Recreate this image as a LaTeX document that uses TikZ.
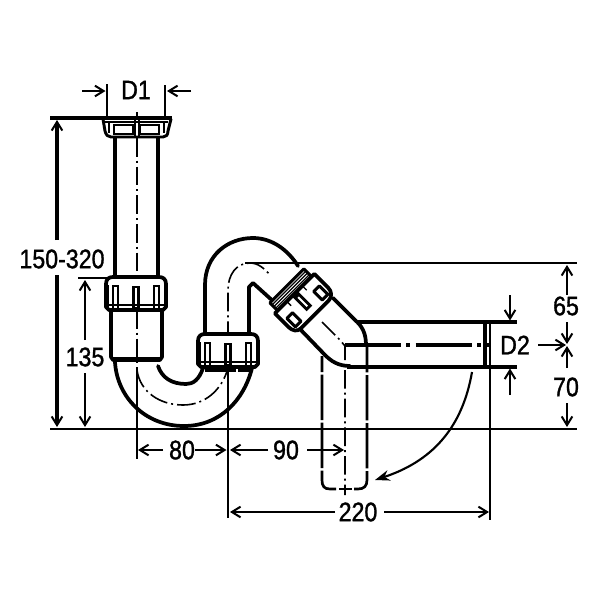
\documentclass[tikz,border=0pt]{standalone}
\usepackage{fontspec}
\setmainfont{Liberation Sans}[BoldFont={Liberation Sans},BoldFeatures={FakeBold=1.3}]
\usetikzlibrary{arrows.meta}
\tikzset{
  px/.style={x=0.75pt,y=-0.75pt},
  thick line/.style={line width=2.8pt,line cap=round,line join=round},
  mid line/.style={line width=2.2pt,line cap=round,line join=round},
  thin line/.style={line width=1.3pt},
  axis/.style={line width=1.2pt,dash pattern=on 14pt off 3pt on 1.5pt off 3pt},
  hidden/.style={line width=2pt,dash pattern=on 34pt off 2pt},
  dim/.style={line width=2pt,-{Straight Barb[length=6.5pt,width=8pt,line width=1.5pt]}},
  thindim/.style={line width=1.3pt,-{Straight Barb[length=6.5pt,width=8pt,line width=1.5pt]}},
  lab/.style={font=\bfseries\fontsize{20}{21}\selectfont,xscale=.87,inner sep=0pt},
  win/.style={line width=1.2pt},
  nut/.pic={
    \draw[thick line,fill=white] (-30,-10) .. controls (-30,-15) and (-27,-17) .. (-23,-17)
      -- (23,-17) .. controls (27,-17) and (30,-15) .. (30,-10) -- (30,13) -- (27,16) -- (-27,16) -- (-30,13) -- cycle;
    \draw[win] (-23,16) -- (-23,-8) -- (-18,-8) -- (-18,16);
    \draw[win] (18,16) -- (18,-8) -- (23,-8) -- (23,16);
    \fill (-4,-8) rectangle (4,14);
    \fill[white] (-1,-6) rectangle (1,13);
    \fill (-30,-9) rectangle (-27.5,13);
    \fill (27.5,-9) rectangle (30,13);
    \draw[line width=1.2pt] (-29,11) -- (29,11);
  }
}
\begin{document}
\begin{tikzpicture}[px]
\useasboundingbox (0,0) rectangle (600,600);
\fill[white] (0,0) rectangle (600,600);

% named reference points
\coordinate (topL) at (50,118); \coordinate (topR) at (172,118);
\coordinate (baseL) at (50,429); \coordinate (baseR) at (577,429);
\coordinate (hiL) at (245,263); \coordinate (hiR) at (577,263);

% witness lines
\draw[thin line] (baseL) -- (baseR);
\draw[thin line] (hiL) -- (hiR);
\draw[thin line] (78,278) -- (110,278);
\draw[thin line] (137,370) -- (137,459);
\draw[thin line] (228,368) -- (228,518);
\draw[line width=2pt] (490,322) -- (490,520);
\draw[thin line] (106.7,84) -- (106.7,118);
\draw[mid line,line cap=butt] (165,85) -- (165,118);
\draw[thick line,line cap=butt] (357,322) -- (517,322);
\draw[thick line,line cap=butt] (347,367) -- (517,367);

% top nut with pipe
\draw[thick line,line cap=butt] (topL) -- (topR);
\draw[thick line,line cap=butt] (115,136) -- (115,278);
\draw[thick line,line cap=butt] (158,136) -- (158,278);
\draw[mid line] (103,119) -- (105,131) .. controls (106,135) and (108,137) .. (111,137)
   -- (163,137) .. controls (166,137) and (168,135) .. (168,131) -- (171,119);
\draw[win] (105,122) -- (168,122);
\draw[win] (109,122) -- (109,133) (114,125) -- (114,134) -- (133,134) -- (133,125) -- cycle
   (140,125) -- (140,134) -- (159,134) -- (159,125) -- cycle (164,122) -- (164,133);
\draw[line width=.8pt] (135,119) -- (135,136) (139,119) -- (139,136);

% trap
\draw[thick line] (115,362) .. controls (117,397) and (145,426) .. (184,426)
    .. controls (220,426) and (244,400) .. (252,368);
\draw[thick line] (158,366) .. controls (162,378) and (172,384) .. (186,384)
    .. controls (193,384) and (199,380) .. (203,368);
\draw[thick line,line cap=butt] (111,310) -- (111,357) -- (113,360) -- (160,360) -- (162,357) -- (162,310);
\draw[line width=3.6pt,line cap=butt] (113,359) -- (160,359);

% rise and bend
\draw[thick line] (205,336) -- (205,285) .. controls (205,255) and (228,238) .. (253,238)
   .. controls (272,238) and (288,250) .. (298,266);
\draw[thick line] (249,336) -- (249,287) -- (253,283) -- (274,302);

% elbow (visible part)
\draw[thick line] (333,298) -- (355,320) .. controls (362,326) and (366,333) .. (366,345);
\draw[thick line] (299,328) -- (325,355) .. controls (331,361) and (338,366) .. (350,366);

% hidden leg
\draw[hidden,dash phase=22pt] (322,356) -- (322,480) .. controls (322,486) and (324,489) .. (330,489) -- (336,489);
\draw[hidden,dash phase=15pt] (367,347) -- (367,480) .. controls (367,486) and (364,489) .. (358,489) -- (354,489);
\draw[line width=2pt] (339,489) -- (352,489);

% horizontal pipe end
\draw[thick line,line cap=butt] (485,322) -- (485,367);

% centre lines
\draw[axis] (137,112) -- (137,116);
\draw[axis] (137,138) -- (137,370);
\draw[axis] (137,370) .. controls (140,392) and (160,405) .. (183,405)
   .. controls (205,405) and (222,390) .. (228,368);
\draw[axis] (228,340) -- (228,290) .. controls (228,275) and (236,263) .. (250,263)
   .. controls (258,263) and (264,268) .. (271,276);
\draw[axis] (322,322) -- (340,340) -- (345,346) -- (345,495);
\draw[line width=2.4pt,dash pattern=on 42pt off 4pt on 3pt off 4pt] (345,345) -- (490,345);

% nuts
\path (136,294) pic {nut};
\path (228,351) pic {nut};
\draw[line width=2.6pt,line cap=butt] (205,370) -- (236,370) (238,370) -- (251,370);
\begin{scope}[shift={(301,300)},rotate=45]
  \draw[mid line,fill=white] (-24,-20) -- (24,-20) -- (24,-9) -- (-24,-9) -- cycle;
  \draw[line width=.9pt] (-24,-17) -- (24,-17) (-24,-14.5) -- (24,-14.5) (-24,-12) -- (24,-12);
  \draw[thick line,fill=white] (-28,-9) -- (28,-9) -- (28,10) .. controls (28,16) and (24,20) .. (19,20)
     -- (-20,20) .. controls (-25,20) and (-28,16) .. (-28,10) -- cycle;
  \draw[mid line,fill=white] (-23,3) rectangle (-15,15);
  \draw[mid line,fill=white] (15,3) rectangle (23,15);
  \fill (-4,-8) rectangle (4,12);
  \fill[white] (-1,-4) rectangle (1,9);
  \foreach \k in {-11,11} {\draw[line width=1pt] (\k,-9) -- (\k,-3);}
\end{scope}

% dimension arrows
\coordinate (a1) at (57,120); \coordinate (a2) at (57,240);
\draw[dim,line width=2.4pt] (a2) -- (a1);
\draw[dim,line width=2.4pt] (57,275) -- (57,427);
\draw[thindim] (85,340) -- (85,280);
\draw[thindim] (85,373) -- (85,427);
\draw[dim] (82,91) -- (105.5,91);
\draw[dim] (191,91) -- (167,91);
\draw[dim] (163,450) -- (138,450);
\draw[dim] (195,450) -- (226.5,450);
\draw[dim] (268,450) -- (230,450);
\draw[dim] (307,450) -- (344,450);
\draw[dim] (335,512) -- (230,512);
\draw[dim] (384,512) -- (489,512);
\draw[dim] (510,295) -- (510,320.5);
\draw[dim] (510,395) -- (510,368.5);
\draw[dim] (538,345) -- (566,345);
\draw[dim] (567,295) -- (567,265);
\draw[dim] (567,322) -- (567,344);
\draw[dim] (567,368) -- (567,346);
\draw[dim] (567,403) -- (567,427);
\draw[line width=1.6pt,-{Stealth[length=11pt,width=8pt]}] (472,372) .. controls (462,430) and (430,462) .. (375,480);

% labels
\node[lab] (tD1) at (136,90) {D1};
\node[lab] (t150) at (62,259) {150-320};
\node[lab] (t135) at (85,357) {135};
\node[lab] (t80) at (182,450) {80};
\node[lab] (t90) at (286,450) {90};
\node[lab] (t220) at (358,512) {220};
\node[lab] (tD2) at (515,345) {D2};
\node[lab] (t65) at (566,306) {65};
\node[lab] (t70) at (566,387) {70};
\end{tikzpicture}
\end{document}
